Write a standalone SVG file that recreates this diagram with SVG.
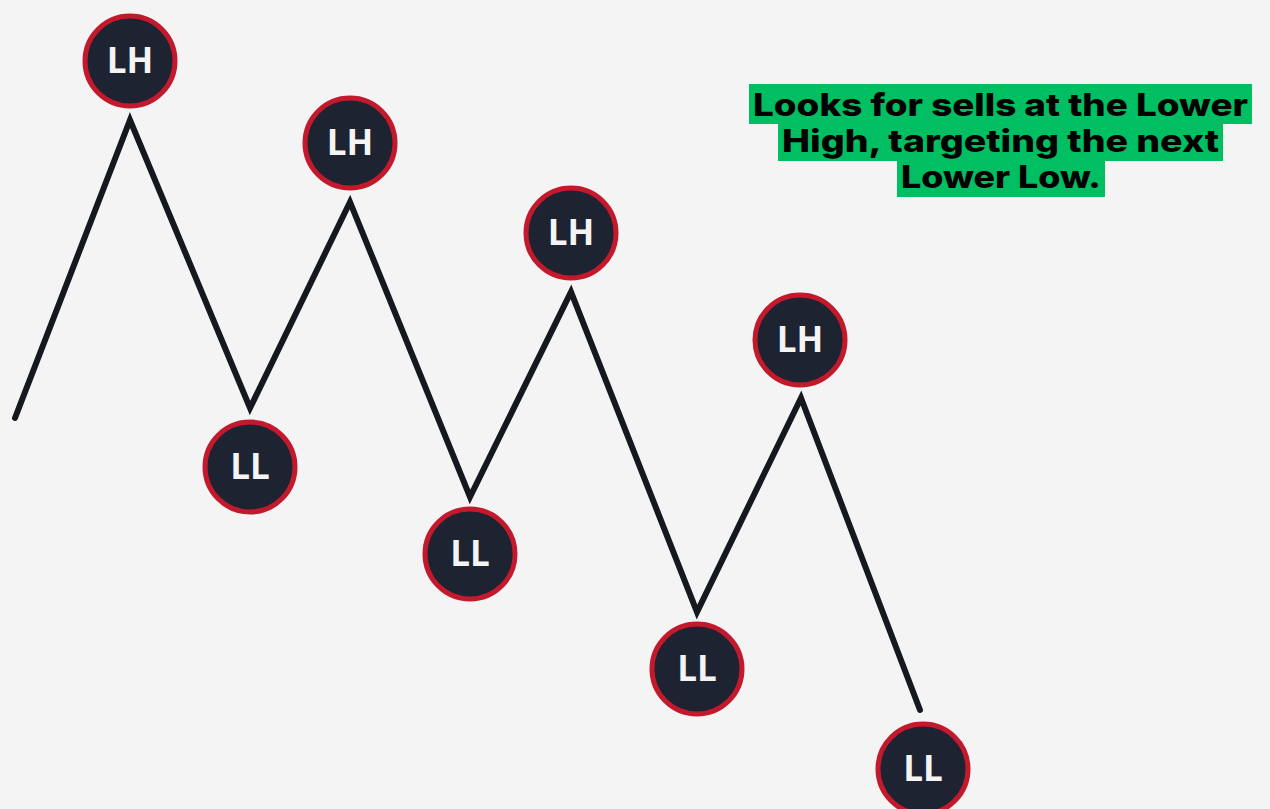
<svg xmlns="http://www.w3.org/2000/svg" width="1270" height="809" viewBox="0 0 1270 809">
  <style>
    .pivot circle { fill: #1d2331; stroke: #c3192c; stroke-width: 5; }
    .pivot text { fill: #f4f4f4; font-family: "Open Sans", "Liberation Sans", sans-serif; font-weight: 700; font-size: 35px; text-anchor: middle; }
    .price { fill: none; stroke: #15181f; stroke-width: 6; stroke-linejoin: miter; stroke-linecap: round; }
    .hl { fill: #00bf63; }
    .note { fill: #000; font-family: Inter, "Liberation Sans", sans-serif; font-weight: 800; font-size: 31px; text-anchor: middle; }
  </style>
  <rect width="1270" height="809" fill="#f4f4f4"/>

  <g id="connectors">
    <polyline class="price" points="15,418 130,120 250,408 350,202 470,497 571,292 697,612 801,398 920,710"/>
  </g>

  <g id="lh1" class="pivot"><circle cx="130" cy="61" r="45"/><text x="130" y="73">LH</text></g>
  <g id="ll1" class="pivot"><circle cx="250" cy="467" r="45"/><text x="250" y="479">LL</text></g>
  <g id="lh2" class="pivot"><circle cx="350" cy="143" r="45"/><text x="350" y="155">LH</text></g>
  <g id="ll2" class="pivot"><circle cx="470" cy="554" r="45"/><text x="470" y="566">LL</text></g>
  <g id="lh3" class="pivot"><circle cx="571" cy="233" r="45"/><text x="571" y="245">LH</text></g>
  <g id="ll3" class="pivot"><circle cx="697" cy="669" r="45"/><text x="697" y="681">LL</text></g>
  <g id="lh4" class="pivot"><circle cx="800" cy="340" r="45"/><text x="800" y="352">LH</text></g>
  <g id="ll4" class="pivot"><circle cx="923" cy="769" r="45"/><text x="923" y="781">LL</text></g>

  <g id="note">
    <rect class="hl" x="749" y="84" width="503" height="40"/>
    <rect class="hl" x="778" y="123" width="445" height="38"/>
    <rect class="hl" x="897" y="160" width="208" height="37"/>
    <text class="note" x="1000.5" y="116" textLength="495" lengthAdjust="spacingAndGlyphs">Looks for sells at the Lower</text>
    <text class="note" x="1000.5" y="152" textLength="437" lengthAdjust="spacingAndGlyphs">High, targeting the next</text>
    <text class="note" x="1001" y="188" textLength="200" lengthAdjust="spacingAndGlyphs">Lower Low.</text>
  </g>
</svg>
